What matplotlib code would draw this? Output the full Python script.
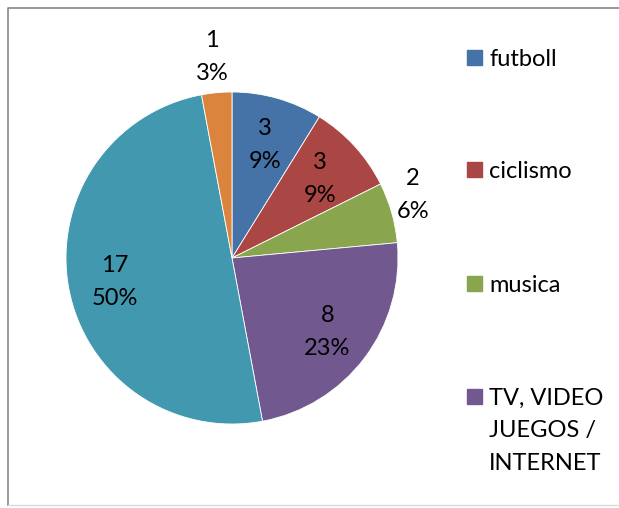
import numpy as np
import matplotlib.pyplot as plt

labels = ['futboll', 'ciclismo', 'musica', 'TV, VIDEO\nJUEGOS /\nINTERNET', 'otros', 'otros 2']
values = [3, 3, 2, 8, 17, 1]
pct_labels = ['9%', '9%', '6%', '23%', '50%', '3%']
colors = ['#4572A7', '#AA4643', '#89A54E', '#71588F', '#4198AF', '#DB843D']
legend_count = 4  # only the first four entries fit in the legend

plt.rcParams['font.family'] = ['Lato', 'DejaVu Sans']
FS = 17
LINE = 33  # px between text lines

fig = plt.figure(figsize=(6.19, 5.08), dpi=100)

# chart frame (left, top, bottom visible; right side cut off)
frame = fig.add_axes([0, 0, 1, 1])
frame.set_xlim(0, 619)
frame.set_ylim(508, 0)
frame.axis('off')
frame.plot([8, 8, 619], [505, 8, 8], color='#868686', lw=1.2)
frame.plot([8, 619], [505, 505], color='#d9d9d9', lw=1)

ax = fig.add_axes([66 / 619, (508 - 424) / 508, 332 / 619, 332 / 508])
wedges, _ = ax.pie(values, colors=colors, startangle=90, counterclock=False,
                   radius=1, wedgeprops=dict(edgecolor='white', linewidth=0.6))
ax.set_xlim(-1, 1)
ax.set_ylim(-1, 1)
ax.set_aspect('equal')

total = sum(values)
half = LINE / 2 * 72 / fig.dpi
for w, v, p in zip(wedges, values, pct_labels):
    mid = np.deg2rad((w.theta1 + w.theta2) / 2)
    if v / total < 0.07:
        # outside label: tall text box needs more room above/below the pie
        r = 1.13 + 0.1 * abs(np.sin(mid))
        mid += np.deg2rad(4) * abs(np.cos(mid))
    else:
        r = 0.72
    xy = (r * np.cos(mid), r * np.sin(mid))
    ax.annotate(str(v), xy, xytext=(0, half), textcoords='offset points',
                ha='center', va='center_baseline', fontsize=FS,
                annotation_clip=False)
    ax.annotate(p, xy, xytext=(0, -half), textcoords='offset points',
                ha='center', va='center_baseline', fontsize=FS,
                annotation_clip=False)

# legend
leg_y = [57, 169, 283, 396]
for i in range(legend_count):
    frame.add_patch(plt.Rectangle((467, leg_y[i] - 7.5), 15, 15, color=colors[i]))
    for j, line in enumerate(labels[i].split('\n')):
        frame.text(489, leg_y[i] + 8.5 + j * LINE, line, ha='left',
                   va='baseline', fontsize=FS)

fig.savefig('out.png', dpi=100)
